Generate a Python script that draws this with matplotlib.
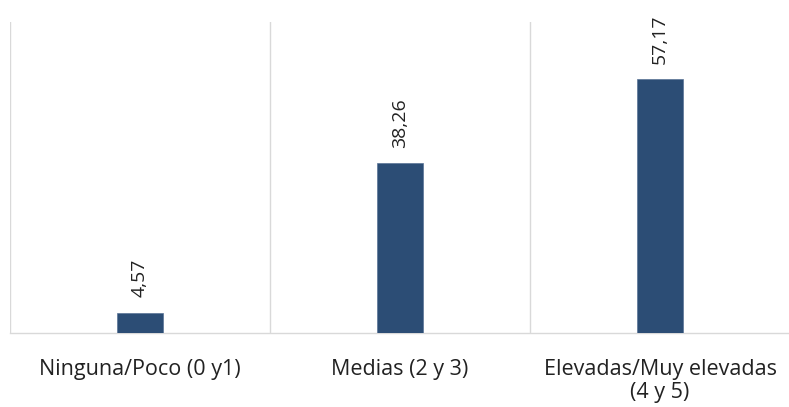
import matplotlib
matplotlib.use("Agg")
import matplotlib.pyplot as plt

categories = ["Ninguna/Poco (0 y1)", "Medias (2 y 3)", "Elevadas/Muy elevadas\n(4 y 5)"]
values = [4.57, 38.26, 57.17]
value_labels = ["4,57", "38,26", "57,17"]

plt.rcParams['font.family'] = ['Open Sans', 'DejaVu Sans']

fig = plt.figure(figsize=(7.89, 4.07), dpi=100)
W, H = 789, 407
ax = fig.add_axes([10 / W, (H - 333) / H, 780 / W, 311 / H])

x = list(range(len(categories)))
ax.bar(x, values, width=0.18, color="#2C4D75", edgecolor="#5a7396", linewidth=0.5, zorder=3)

for xi, v, lab in zip(x, values, value_labels):
    ax.annotate(lab, (xi, v), xytext=(0, 11), textcoords="offset points",
                rotation=90, ha="center", va="bottom", fontsize=14, color="#222222")

ax.set_xlim(-0.5, 2.5)
ax.set_ylim(0, 70)
ax.set_xticks(x)
ax.set_xticklabels(categories, fontsize=15.5, color="#222222", linespacing=1.1)
ax.tick_params(axis="x", length=0, pad=19)
ax.set_yticks([])

for b in [-0.5, 0.5, 1.5, 2.5]:
    ax.axvline(b, color="#d9d9d9", linewidth=1, zorder=1)

for s in ["top", "right", "left"]:
    ax.spines[s].set_visible(False)
ax.spines["bottom"].set_color("#d9d9d9")
ax.spines["bottom"].set_linewidth(1)

fig.savefig("out.png", dpi=100)
